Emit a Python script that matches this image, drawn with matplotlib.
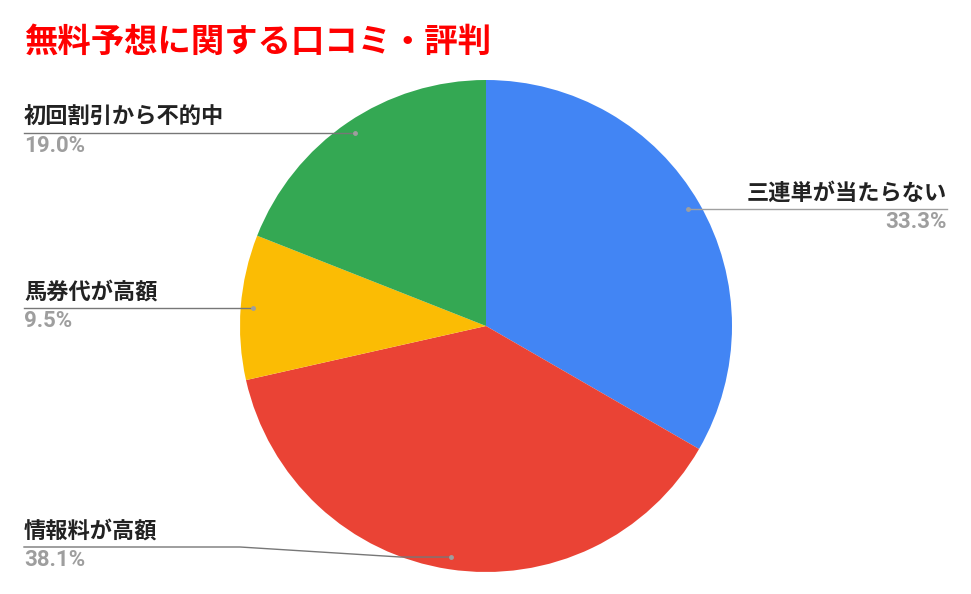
import matplotlib
matplotlib.use("Agg")
import matplotlib.pyplot as plt
import numpy as np

# data
labels = ["三連単が当たらない", "情報料が高額", "馬券代が高額", "初回割引から不的中"]
values = [33.3, 38.1, 9.5, 19.0]
colors = ["#4285F4", "#EA4335", "#FBBC04", "#34A853"]
title = "無料予想に関する口コミ・評判"

W, H = 971, 594
fig = plt.figure(figsize=(W / 100, H / 100), dpi=100)
ax = fig.add_axes([0, 0, 1, 1])
ax.set_xlim(0, W)
ax.set_ylim(0, H)
ax.axis("off")

cx, cy, r = 486, H - 326, 246
wedges, _ = ax.pie(values, colors=colors, startangle=90, counterclock=False,
                   center=(cx, cy), radius=r, wedgeprops=dict(linewidth=0),
                   frame=True)
ax.set_xlim(0, W)
ax.set_ylim(0, H)
ax.set_aspect("equal")
ax.axis("off")

jp = ["Noto Sans CJK JP", "DejaVu Sans"]
fig.text(24 / W, 1 - 42 / H, title, fontsize=24, fontweight="bold",
         color="#FF0000", family=jp, va="center", ha="left")

# leader lines and labels
for w, lab, v in zip(wedges, labels, values):
    ang = np.deg2rad((w.theta1 + w.theta2) / 2)
    dx = cx + 0.95 * r * np.cos(ang)
    dy = cy + 0.95 * r * np.sin(ang)
    ax.plot(dx, dy, "o", ms=2.5, color="#9E9E9E", zorder=5)
    if np.cos(ang) >= 0:
        xe = 947
        ly = dy
        ax.plot([dx, xe], [ly, ly], color="#A0A0A0", lw=1, zorder=4)
        ha = "right"
    else:
        xe = 24
        ly = min(dy, H - 131) if dy > cy else max(dy, H - 547)
        if ly != dy:
            ax.plot([dx, dx - 50, 240, xe], [dy, dy, ly, ly],
                    color="#777777", lw=1, zorder=4)
        else:
            ax.plot([dx, xe], [ly, ly], color="#777777", lw=1, zorder=4)
        ha = "left"
    ax.text(xe, ly + 4, lab, fontsize=16, fontweight="bold", color="#222222",
            family=jp, ha=ha, va="bottom")
    ax.text(xe, ly - 2, f"{v:.1f}%", fontsize=16, fontweight="bold",
            color="#9E9E9E", family=["Roboto", "DejaVu Sans"], ha=ha, va="top")

fig.savefig("out.png", dpi=100, facecolor="white")
